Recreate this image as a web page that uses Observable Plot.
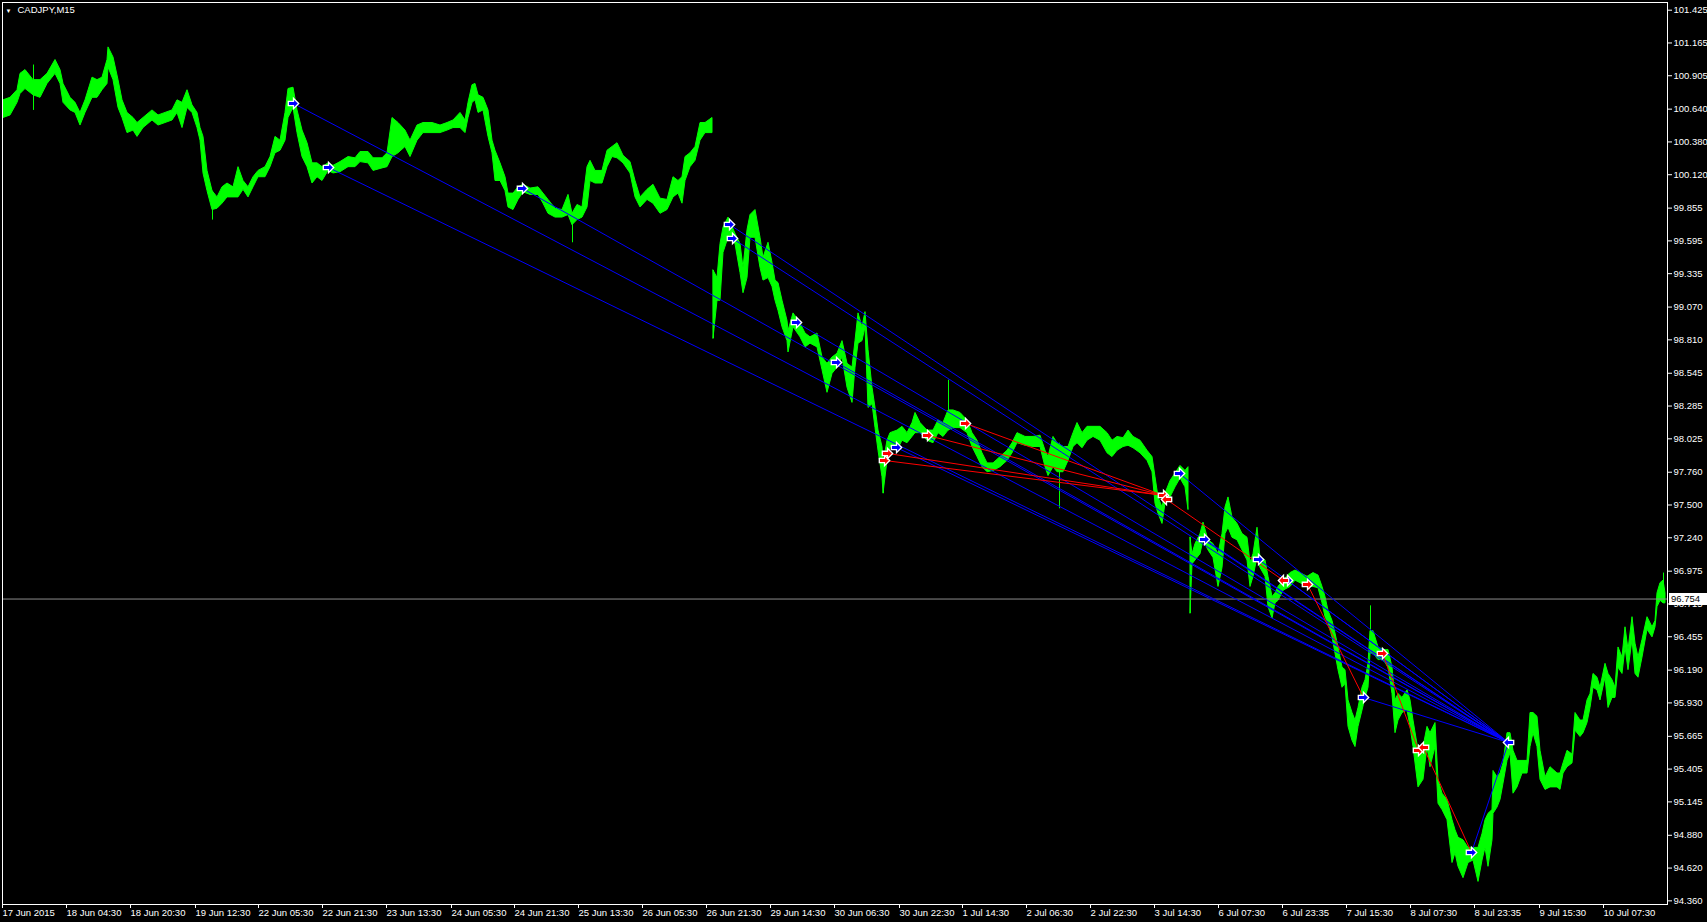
<!DOCTYPE html>
<html><head><meta charset="utf-8">
<script src="https://cdn.jsdelivr.net/npm/d3@7"></script>
<script src="https://cdn.jsdelivr.net/npm/@observablehq/plot@0.6"></script>
<style>html,body{margin:0;padding:0;background:#000;overflow:hidden;} svg{display:block}</style>
</head><body><div id="chart"></div>
<script>
const symbolName = "CADJPY,M15";
const lastPrice = 96.754;

// ---- price: week 1 (bar index, high, low) ----
const week1Bars = [3,10,17,20,25,33,40,47,55,60,
63,70,75,80,85,92,97,102,107,108,
113,118,122,127,133,137,143,152,158,165,
172,177,182,187,192,197,200,203,207,212,
217,222,227,233,238,243,248,253,258,265,
270,275,280,285,288,293,297,302,307,312,
317,322,328,333,340,348,355,360,368,373,
382,387,392,398,405,410,417,423,432,440,
447,453,460,465,468,472,475,478,483,488,
492,495,500,505,508,513,518,523,530,538,
543,548,555,562,568,572,577,582,587,590,
595,602,607,612,617,623,630,635,640,647,
653,660,667,673,678,682,685,690,695,700,
705,712];
const week1High = [100.71,100.73,100.79,100.92,100.95,100.87,100.87,100.92,101.03,100.95,
100.84,100.73,100.69,100.61,100.71,100.89,100.87,100.89,101.03,101.13,
101.05,100.87,100.71,100.61,100.57,100.53,100.57,100.63,100.59,100.61,
100.63,100.71,100.69,100.79,100.67,100.61,100.49,100.42,100.15,99.99,
99.94,100.02,100.05,100.02,100.18,100.07,100.02,100.10,100.15,100.18,
100.26,100.42,100.39,100.61,100.80,100.81,100.63,100.47,100.37,100.21,
100.21,100.18,100.21,100.19,100.22,100.26,100.25,100.30,100.30,100.25,
100.25,100.29,100.57,100.53,100.47,100.39,100.51,100.53,100.53,100.51,
100.53,100.55,100.61,100.55,100.69,100.83,100.84,100.75,100.73,100.63,
100.39,100.31,100.21,100.10,99.97,99.97,100.02,100.04,100.01,100.02,
99.97,99.92,99.85,99.84,99.96,99.81,99.88,99.86,100.18,100.23,
100.15,100.15,100.31,100.34,100.37,100.27,100.22,100.07,99.94,100.00,
100.04,99.93,99.92,100.10,100.07,100.10,100.26,100.29,100.34,100.53,
100.53,100.57];
const week1Low = [100.57,100.59,100.69,100.76,100.80,100.75,100.73,100.84,100.92,100.84,
100.69,100.63,100.61,100.51,100.61,100.73,100.73,100.79,100.84,100.97,
100.87,100.65,100.57,100.45,100.47,100.42,100.49,100.55,100.51,100.53,
100.55,100.61,100.49,100.65,100.61,100.49,100.39,100.13,99.99,99.84,
99.85,99.89,99.94,99.94,99.94,100.00,99.94,100.02,100.10,100.10,
100.18,100.29,100.31,100.39,100.57,100.65,100.45,100.26,100.18,100.05,
100.10,100.07,100.15,100.13,100.14,100.18,100.18,100.22,100.21,100.15,
100.17,100.18,100.26,100.29,100.34,100.26,100.39,100.45,100.45,100.45,
100.47,100.49,100.49,100.45,100.57,100.69,100.71,100.61,100.63,100.42,
100.29,100.07,100.07,99.99,99.86,99.84,99.92,99.98,99.96,99.96,
99.89,99.81,99.78,99.78,99.80,99.72,99.76,99.78,99.86,100.07,
100.05,100.05,100.18,100.26,100.25,100.21,100.13,99.94,99.86,99.92,
99.89,99.81,99.84,99.94,99.97,99.89,100.07,100.18,100.23,100.39,
100.45,100.45];

// ---- price: week 2 ----
const week2Bars = [713,717,720,723,728,735,740,743,747,750,
755,760,763,768,772,775,778,782,787,788,
793,800,805,810,817,822,827,832,837,842,
847,852,855,858,862,865,868,872,875,878,
882,883,887,890,897,902,907,912,915,920,
927,933,938,943,948,953,960,967,972,977,
982,987,993,1000,1007,1012,1017,1025,1033,1040,
1045,1048,1053,1057,1063,1068,1073,1077,1082,1087,
1093,1100,1107,1112,1117,1123,1128,1133,1140,1147,
1152,1155,1158,1162,1165,1170,1175,1180,1185,1188];
const week2High = [99.36,99.30,99.57,99.70,99.78,99.65,99.57,99.38,99.68,99.80,
99.84,99.62,99.46,99.58,99.42,99.28,99.26,99.12,98.96,98.88,
99.02,98.94,98.86,98.83,98.86,98.67,98.62,98.67,98.70,98.80,
98.62,98.59,98.80,99.02,98.91,99.03,98.73,98.43,98.27,98.09,
97.96,97.83,98.01,98.07,98.09,98.12,98.07,98.15,98.23,98.15,
98.09,98.09,98.17,98.15,98.25,98.25,98.23,98.17,98.07,98.01,
97.91,97.83,97.83,97.88,97.93,97.99,98.07,98.04,98.04,98.05,
97.93,97.88,98.04,97.99,97.96,97.96,98.07,98.15,98.07,98.12,
98.12,98.12,98.07,98.01,98.04,98.03,98.09,98.04,98.01,97.93,
97.88,97.72,97.56,97.48,97.59,97.69,97.75,97.81,97.77,97.80];
const week2Low = [98.82,99.12,99.12,99.50,99.62,99.57,99.34,99.18,99.30,99.62,
99.62,99.38,99.28,99.30,99.23,99.12,99.04,98.91,98.80,98.71,
98.91,98.83,98.75,98.78,98.75,98.57,98.39,98.54,98.59,98.67,
98.43,98.31,98.59,98.78,98.80,98.91,98.27,98.30,98.11,97.93,
97.72,97.59,97.85,97.96,97.93,98.01,97.99,98.04,98.07,98.07,
98.01,97.99,98.07,98.04,98.09,98.11,98.11,98.07,97.96,97.88,
97.80,97.76,97.77,97.80,97.85,97.91,97.99,97.97,97.96,97.96,
97.80,97.73,97.80,97.76,97.76,97.85,97.96,97.99,97.95,98.01,
98.04,98.01,97.91,97.88,97.93,97.96,97.97,97.95,97.91,97.85,
97.76,97.51,97.43,97.35,97.51,97.56,97.64,97.71,97.64,97.46];

// ---- price: week 3 ----
const week3Bars = [1190,1192,1195,1200,1203,1208,1213,1218,1222,1225,
1228,1232,1237,1242,1247,1250,1253,1257,1260,1265,
1268,1272,1275,1278,1283,1290,1295,1300,1307,1313,
1318,1322,1325,1328,1332,1335,1338,1342,1345,1348,
1352,1355,1358,1362,1365,1368,1370,1373,1378,1383,
1388,1392,1395,1398,1402,1407,1410,1413,1418,1423,
1427,1430,1435,1438,1442,1447,1452,1455,1458,1463,
1468,1473,1478,1482,1485,1488,1492,1493,1497,1500,
1503,1507,1510,1513,1517,1522,1527,1530,1533,1537,
1540,1545,1550,1557,1560,1563,1567,1572,1575,1580,
1583,1587,1590,1593,1597,1600,1605,1608,1612,1615,
1618,1622,1625,1628,1632,1635,1638,1642,1647,1652,
1655,1657,1660,1663,1665];
const week3High = [97.24,97.11,97.19,97.27,97.36,97.22,97.19,97.11,97.27,97.48,
97.56,97.40,97.35,97.27,97.24,97.04,97.11,97.32,97.08,97.06,
96.93,96.77,96.80,96.85,96.90,96.96,96.98,96.96,96.93,96.96,
96.94,96.85,96.77,96.66,96.58,96.48,96.37,96.21,96.19,95.95,
95.85,95.79,95.89,96.05,96.11,96.24,96.50,96.50,96.37,96.35,
96.35,96.21,95.95,96.00,95.97,96.03,95.95,95.79,95.55,95.58,
95.74,95.69,95.77,95.32,95.21,95.16,95.00,94.92,94.86,94.84,
94.78,94.78,94.78,94.89,95.00,95.05,95.08,95.39,95.34,95.37,
95.45,95.69,95.69,95.55,95.47,95.47,95.47,95.85,95.85,95.82,
95.55,95.34,95.42,95.37,95.37,95.45,95.55,95.52,95.85,95.79,
95.79,95.95,96.00,96.16,96.13,96.05,96.24,96.16,96.11,96.05,
96.37,96.29,96.53,96.35,96.61,96.40,96.29,96.43,96.61,96.53,
96.58,96.80,96.88,96.90,96.80];
const week3Low = [96.64,97.03,97.06,97.11,97.22,97.14,97.08,96.85,97.00,97.27,
97.32,97.24,97.22,97.14,97.06,96.85,96.93,97.08,97.00,96.93,
96.69,96.60,96.72,96.74,96.82,96.85,96.90,96.88,96.85,96.85,
96.84,96.72,96.61,96.56,96.45,96.32,96.19,96.05,96.08,95.74,
95.63,95.58,95.74,95.87,95.97,96.05,96.32,96.32,96.27,96.27,
96.21,96.00,95.69,95.79,95.85,95.87,95.74,95.58,95.26,95.32,
95.58,95.42,95.58,95.13,95.08,95.00,94.66,94.74,94.63,94.54,
94.66,94.68,94.51,94.68,94.78,94.63,94.84,95.05,95.10,95.16,
95.29,95.47,95.53,95.21,95.26,95.37,95.37,95.58,95.69,95.58,
95.32,95.24,95.26,95.26,95.24,95.37,95.42,95.45,95.71,95.66,
95.69,95.77,95.89,96.05,96.03,95.95,96.13,95.89,95.97,95.97,
96.21,96.16,96.37,96.19,96.43,96.16,96.13,96.29,96.51,96.45,
96.53,96.69,96.74,96.72,96.72];

// ---- single-bar spikes ----
const spikeBars = [33, 212, 572, 713, 883, 948, 1059, 1190, 1370, 1663];
const spikeHigh = [100.99, 99.99, 99.81, 99.36, 97.83, 98.49, 97.99, 97.24, 96.70, 96.96];
const spikeLow  = [100.63, 99.76, 99.58, 98.82, 97.59, 98.09, 97.47, 96.64, 96.32, 96.72];

// ---- signal arrows ----
const markerBar   = [293,328,522,729,732,796,836,896,1179,1204,1258,1287,1363,1471,1508,
                     884,887,927,965,1163,1166,1283,1307,1382,1418,1423];
const markerPrice = [100.685,100.177,100.011,99.725,99.614,98.948,98.631,97.956,97.750,97.227,97.068,96.901,95.973,94.744,95.616,
                     97.853,97.909,98.052,98.147,97.576,97.544,96.901,96.870,96.322,95.553,95.577];
const markerColor = ["blue","blue","blue","blue","blue","blue","blue","blue","blue","blue","blue","blue","blue","blue","blue",
                     "red","red","red","red","red","red","red","red","red","red","red"];
const markerDir   = [1,1,1,1,1,1,1,1,1,1,1,1,1,1,-1,
                     1,1,1,1,1,-1,-1,1,1,1,-1];

// ---- trend lines ----
const linkBar1   = [293,328,522,729,732,796,836,896,1179,1204,1258,1287,1363,1471, 884,887,927,965, 1166,1307,1382,1423];
const linkPrice1 = [100.685,100.177,100.011,99.725,99.614,98.948,98.631,97.956,97.750,97.227,97.068,96.901,95.973,94.744, 97.853,97.909,98.052,98.147, 97.544,96.870,96.322,95.577];
const linkBar2   = [1508,1508,1508,1508,1508,1508,1508,1508,1508,1508,1508,1508,1508,1508, 1163,1163,1163,1163, 1283,1363,1418,1471];
const linkPrice2 = [95.616,95.616,95.616,95.616,95.616,95.616,95.616,95.616,95.616,95.616,95.616,95.616,95.616,95.616, 97.576,97.576,97.576,97.576, 96.901,95.973,95.553,94.744];
const linkColor  = ["blue","blue","blue","blue","blue","blue","blue","blue","blue","blue","blue","blue","blue","blue","red","red","red","red","red","red","red","red"];

// ---- axes ----
const yTicks = [101.425,101.165,100.905,100.640,100.380,100.120,99.855,99.595,99.335,99.070,98.810,98.545,98.285,98.025,97.760,97.500,97.240,96.975,96.715,96.455,96.190,95.930,95.665,95.405,95.145,94.880,94.620,94.360];
const xTickBars = [3,67,131,196,259,323,387,452,515,579,643,707,771,835,900,963,1027,1091,1155,1219,1283,1347,1411,1475,1540,1604];
const xTickLabels = ["17 Jun 2015","18 Jun 04:30","18 Jun 20:30","19 Jun 12:30","22 Jun 05:30","22 Jun 21:30","23 Jun 13:30","24 Jun 05:30","24 Jun 21:30","25 Jun 13:30","26 Jun 05:30","26 Jun 21:30","29 Jun 14:30","30 Jun 06:30","30 Jun 22:30","1 Jul 14:30","2 Jul 06:30","2 Jul 22:30","3 Jul 14:30","6 Jul 07:30","6 Jul 23:35","7 Jul 15:30","8 Jul 07:30","8 Jul 23:35","9 Jul 15:30","10 Jul 07:30"];

// ---- checks & tables ----
const weeks = [[week1Bars,week1High,week1Low],[week2Bars,week2High,week2Low],[week3Bars,week3High,week3Low]];
weeks.forEach((w,k)=>{
  if (w[0].length !== w[1].length || w[0].length !== w[2].length) throw new Error("week"+(k+1)+" length mismatch "+w.map(a=>a.length));
});
const price = [];
weeks.forEach((w,k)=>{
  w[0].forEach((b,i)=>price.push({bar:b, high:w[1][i], low:w[2][i], week:k}));
});
const spikes = spikeBars.map((b,i)=>({bar:b, high:spikeHigh[i], low:spikeLow[i]}));
const markers = markerBar.map((b,i)=>({bar:b, price:markerPrice[i], color:markerColor[i], dir:markerDir[i]}));
const links = linkBar1.map((b,i)=>({x1:b, y1:linkPrice1[i], x2:linkBar2[i], y2:linkPrice2[i], color:linkColor[i]}));
const xLabel = new Map(xTickBars.map((b,i)=>[b, xTickLabels[i]]));
const colorOf = {blue:"#0000ff", red:"#ff0000"};

const arrow = dir => ({
  draw(ctx, size) {
    const r = Math.sqrt(size / Math.PI);
    ctx.moveTo(-dir*r, -0.42*r); ctx.lineTo(0, -0.42*r); ctx.lineTo(0, -r);
    ctx.lineTo(dir*r, 0); ctx.lineTo(0, r); ctx.lineTo(0, 0.42*r);
    ctx.lineTo(-dir*r, 0.42*r); ctx.closePath();
  }
});

const W = 1707, H = 922, mL = 2, mR = 40, mT = 2, mB = 18;

const chart = Plot.plot({
  width: W, height: H,
  marginLeft: mL, marginRight: mR, marginTop: mT, marginBottom: mB,
  style: {background: "#000", color: "#fff", fontFamily: "'Liberation Sans', Arial, sans-serif", fontSize: "9.5px"},
  x: {type: "linear", domain: [2, 1667]},
  y: {type: "linear", domain: [94.331, 101.486]},
  marks: [
    Plot.areaY(price, {x: "bar", y1: "low", y2: "high", z: "week", fill: "#00ff00", stroke: "#00ff00", strokeWidth: 1, curve: "linear"}),
    Plot.ruleX(spikes, {x: "bar", y1: "low", y2: "high", stroke: "#00ff00", strokeWidth: 1}),
    Plot.ruleY([lastPrice], {stroke: "#8c8c8c", strokeWidth: 1}),
    Plot.link(links, {x1: "x1", y1: "y1", x2: "x2", y2: "y2", stroke: d => colorOf[d.color], strokeWidth: 1}),
    Plot.dot(markers.filter(d => d.dir === 1), {x: "bar", y: "price", symbol: arrow(1), r: 5.2, fill: d => colorOf[d.color], stroke: "#fff", strokeWidth: 1.3}),
    Plot.dot(markers.filter(d => d.dir === -1), {x: "bar", y: "price", symbol: arrow(-1), r: 5.2, fill: d => colorOf[d.color], stroke: "#fff", strokeWidth: 1.3}),
    Plot.frame({stroke: "#fff"}),
    Plot.axisY(yTicks, {anchor: "right", tickFormat: d3.format(".3f"), tickSize: 4, tickPadding: 2}),
    Plot.axisX(xTickBars, {anchor: "bottom", tickFormat: d => xLabel.get(d), tickSize: 4, tickPadding: 1, textAnchor: "start", dx: -1}),
    Plot.text([symbolName], {frameAnchor: "top-left", dx: 15, dy: 4, textAnchor: "start", lineAnchor: "top", fill: "#fff"}),
    Plot.text(["\u25BC"], {frameAnchor: "top-left", dx: 3, dy: 6, textAnchor: "start", lineAnchor: "top", fill: "#fff", fontSize: 6}),
    (index, scales, values, dims) => {
      const yy = Math.round(scales.y(lastPrice));
      const x0 = dims.width - dims.marginRight + 2;
      const g = d3.create("svg:g");
      g.append("rect").attr("x", x0).attr("y", yy - 6).attr("width", 38).attr("height", 12).attr("fill", "#fff");
      g.append("text").attr("x", x0 + 2).attr("y", yy).attr("dy", "0.35em")
        .attr("text-anchor", "start").attr("fill", "#000").text(lastPrice.toFixed(3));
      return g.node();
    }
  ]
});
document.getElementById("chart").appendChild(chart);
</script>
</body></html>
